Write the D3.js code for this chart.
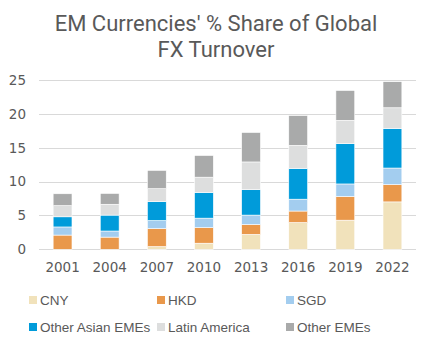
<!DOCTYPE html>
<html>
<head>
<meta charset="utf-8">
<script src="https://cdn.jsdelivr.net/npm/d3@7"></script>
<style>
  body { margin: 0; background: #fff; }
  svg { display: block; }
</style>
</head>
<body>
<script>
    var w = 421; //width of the SVG canvas
    var h = 339; //height of the SVG canvas

    // survey years along the x axis
    var years = ["2001", "2004", "2007", "2010", "2013", "2016", "2019", "2022"];

    // share of global FX turnover (%), one array per currency group
    var cny        = [0.0, 0.0, 0.4, 0.9, 2.2, 3.95, 4.3, 7.0];
    var hkd        = [2.1, 1.8, 2.65, 2.3, 1.45, 1.7, 3.5, 2.55];
    var sgd        = [1.2, 0.9, 1.2, 1.4, 1.4, 1.75, 1.85, 2.45];
    var otherAsian = [1.5, 2.35, 2.8, 3.8, 3.75, 4.55, 5.95, 5.85];
    var latAm      = [1.65, 1.6, 1.9, 2.25, 4.1, 3.4, 3.45, 3.05];
    var otherEmes  = [1.75, 1.6, 2.7, 3.2, 4.35, 4.4, 4.4, 3.85];

    var seriesNames = ["CNY", "HKD", "SGD", "Other Asian EMEs", "Latin America", "Other EMEs"];
    var seriesValues = [cny, hkd, sgd, otherAsian, latAm, otherEmes];
    var colours = ["#f1e2bb", "#e9984b", "#a3cdef", "#009bda", "#dddede", "#a9aaaa"];

    var yTicks = [0, 5, 10, 15, 20, 25];

    // rows for d3.stack: one object per year
    var rows = years.map(function(y, i) {
        var r = { year: y };
        seriesNames.forEach(function(s, k) { r[s] = seriesValues[k][i]; });
        return r;
    });
    var stacked = d3.stack().keys(seriesNames)(rows);

    var xScale = d3.scaleBand()
        .domain(years)
        .range([39, 416])
        .paddingInner(0.6)
        .paddingOuter(0.3);

    var yScale = d3.scaleLinear()
        .domain([0, 25])
        .range([249.3, 80]);

    var colour = d3.scaleOrdinal().domain(seriesNames).range(colours);

    var svg = d3.select("body")
        .append("svg")
        .attr("width", w)
        .attr("height", h);

    // title, two lines
    var title = svg.append("text")
        .attr("text-anchor", "middle")
        .attr("fill", "#595959")
        .style("font-family", "Roboto, 'Liberation Sans', Arial, sans-serif")
        .style("font-size", "22px");
    title.append("tspan").attr("x", 216).attr("y", 31).text("EM Currencies' % Share of Global");
    title.append("tspan").attr("x", 216).attr("y", 57).text("FX Turnover");

    // horizontal gridlines
    svg.append("g")
        .selectAll("line")
        .data(yTicks)
        .enter()
        .append("line")
        .attr("x1", 39)
        .attr("x2", 416)
        .attr("y1", function(d) { return Math.round(yScale(d)) + 0.5; })
        .attr("y2", function(d) { return Math.round(yScale(d)) + 0.5; })
        .attr("stroke", "#d9d9d9")
        .attr("stroke-width", 1.2);

    // stacked bars
    svg.append("g")
        .selectAll("g")
        .data(stacked)
        .enter()
        .append("g")
        .attr("fill", function(d) { return colour(d.key); })
        .selectAll("rect")
        .data(function(d) { return d; })
        .enter()
        .append("rect")
        .attr("x", function(d) { return xScale(d.data.year); })
        .attr("width", xScale.bandwidth())
        .attr("y", function(d) { return yScale(d[1]); })
        .attr("height", function(d) { return yScale(d[0]) - yScale(d[1]); })
        .attr("stroke", "#fff")
        .attr("stroke-width", 0.6);

    // y axis labels
    var yAxis = d3.axisLeft(yScale).tickValues(yTicks).tickSize(0).tickPadding(0);
    var yG = svg.append("g")
        .attr("transform", "translate(26,0)")
        .call(yAxis);
    yG.select(".domain").remove();
    yG.selectAll("text")
        .attr("fill", "#595959")
        .style("font-family", "'DejaVu Sans', sans-serif")
        .style("font-size", "13.5px");

    // x axis labels
    var xAxis = d3.axisBottom(xScale).tickSize(0).tickPadding(0);
    var xG = svg.append("g")
        .attr("transform", "translate(0,262)")
        .call(xAxis);
    xG.select(".domain").remove();
    xG.selectAll("text")
        .attr("fill", "#595959")
        .style("font-family", "'DejaVu Sans', sans-serif")
        .style("font-size", "13.5px");

    // legend, three columns by two rows
    var legendX = [29, 157, 286];
    var legendY = [300, 327];
    var legend = svg.append("g")
        .selectAll("g")
        .data(seriesNames)
        .enter()
        .append("g")
        .attr("transform", function(d, i) {
            return "translate(" + legendX[i % 3] + "," + legendY[Math.floor(i / 3)] + ")";
        });
    legend.append("rect")
        .attr("x", 0)
        .attr("y", -4)
        .attr("width", 8)
        .attr("height", 8)
        .attr("fill", function(d) { return colour(d); });
    legend.append("text")
        .attr("x", 11)
        .attr("y", 5)
        .attr("fill", "#595959")
        .style("font-family", "'Liberation Sans', Arial, sans-serif")
        .style("font-size", "13.5px")
        .text(function(d) { return d; });
</script>
</body>
</html>
